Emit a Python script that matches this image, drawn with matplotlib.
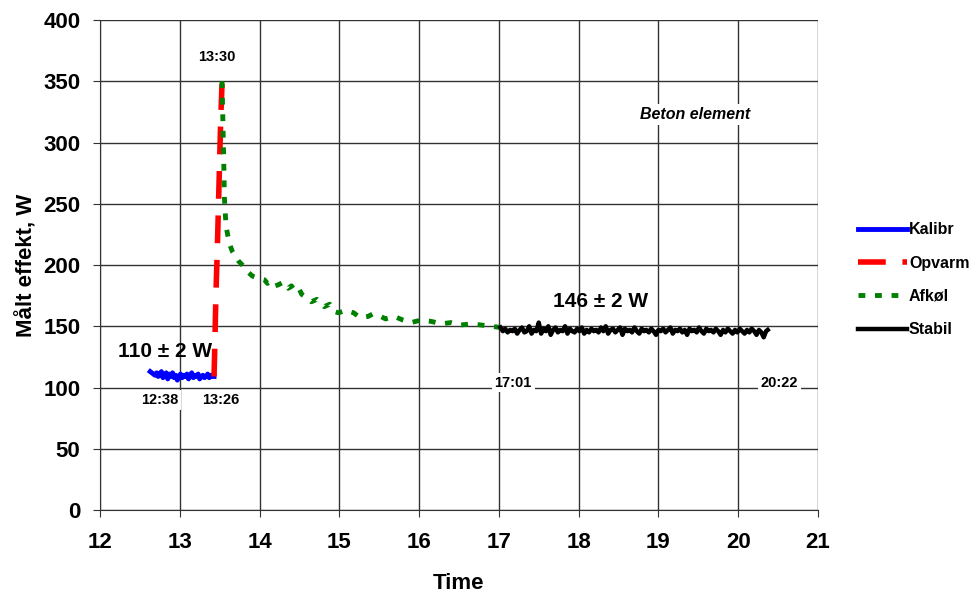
import numpy as np
import matplotlib.pyplot as plt

plt.rcParams['font.family'] = ['Liberation Sans', 'DejaVu Sans']

# Kalibr (12:38 - 13:26)
kal_x = [12.63, 12.65, 12.67, 12.69, 12.71, 12.73, 12.75, 12.77, 12.79, 12.81,
         12.83, 12.85, 12.87, 12.89, 12.91, 12.93, 12.95, 12.97, 12.99, 13.01,
         13.03, 13.05, 13.07, 13.09, 13.11, 13.13, 13.15, 13.17, 13.19, 13.21,
         13.23, 13.25, 13.27, 13.29, 13.31, 13.33, 13.35, 13.37, 13.39, 13.41, 13.43]
kal_y = [113, 112, 111, 110, 112, 109, 111, 113, 108, 110,
         112, 107, 111, 109, 112, 108, 110, 106, 109, 111,
         108, 110, 109, 111, 107, 110, 112, 108, 110, 109,
         111, 107, 109, 110, 108, 109, 111, 108, 110, 109, 109]

# Opvarm
opv_x = [13.43, 13.44, 13.45, 13.46, 13.47, 13.48, 13.49, 13.50, 13.51, 13.52, 13.53]
opv_y = [109, 135, 165, 190, 210, 235, 260, 285, 310, 330, 348]

# Afkøl
afk_x = [13.53, 13.54, 13.55, 13.56, 13.58, 13.62, 13.66, 13.74, 13.80, 13.86, 13.91,
         13.95, 14.00, 14.06, 14.10, 14.15, 14.20, 14.24, 14.30, 14.36, 14.40,
         14.45, 14.50, 14.53, 14.60, 14.65, 14.72, 14.81, 14.88, 14.94, 14.99,
         15.08, 15.18, 15.26, 15.36, 15.42, 15.49, 15.58, 15.69, 15.80, 15.90,
         16.02, 16.15, 16.28, 16.40, 16.52, 16.65, 16.78, 16.90, 17.02]
afk_y = [350, 320, 290, 255, 232, 218, 211, 203, 199, 194, 191,
         190, 189, 188, 185, 187, 183, 184, 186, 181, 183,
         178, 180, 176, 173, 170, 172, 166, 168, 162, 161,
         163, 161, 157, 158, 160, 159, 156, 158, 155, 153,
         155, 154, 152, 153, 151, 152, 151, 150, 149]

# Stabil (17:01 - 20:22)
stb_x = [17.02, 17.05, 17.08, 17.11, 17.14, 17.17, 17.20, 17.23, 17.26, 17.29,
         17.32, 17.35, 17.38, 17.41, 17.44, 17.47, 17.50, 17.53, 17.56, 17.59,
         17.62, 17.65, 17.68, 17.71, 17.74, 17.77, 17.80, 17.83, 17.86, 17.89,
         17.92, 17.95, 17.98, 18.01, 18.04, 18.07, 18.10, 18.13, 18.16, 18.19,
         18.22, 18.25, 18.28, 18.31, 18.34, 18.37, 18.40, 18.43, 18.46, 18.49,
         18.52, 18.55, 18.58, 18.61, 18.64, 18.67, 18.70, 18.73, 18.76, 18.79,
         18.82, 18.85, 18.88, 18.91, 18.94, 18.97, 19.00, 19.03, 19.06, 19.09,
         19.12, 19.15, 19.18, 19.21, 19.24, 19.27, 19.30, 19.33, 19.36, 19.39,
         19.42, 19.45, 19.48, 19.51, 19.54, 19.57, 19.60, 19.63, 19.66, 19.69,
         19.72, 19.75, 19.78, 19.81, 19.84, 19.87, 19.90, 19.93, 19.96, 19.99,
         20.02, 20.05, 20.08, 20.11, 20.14, 20.17, 20.20, 20.23, 20.26, 20.29,
         20.32, 20.35, 20.37]
stb_y = [149, 146, 148, 145, 147, 146, 148, 144, 147, 149,
         145, 146, 150, 144, 147, 146, 153, 144, 148, 146,
         150, 143, 147, 149, 145, 147, 146, 150, 144, 148,
         146, 145, 148, 146, 149, 144, 147, 145, 148, 146,
         147, 145, 149, 146, 150, 144, 147, 148, 145, 147,
         149, 143, 148, 146, 147, 145, 149, 146, 144, 148,
         146, 147, 145, 148, 146, 143, 147, 146, 148, 145,
         147, 149, 144, 147, 146, 148, 145, 147, 143, 148,
         146, 147, 145, 149, 146, 144, 148, 146, 147, 145,
         148, 146, 143, 147, 145, 148, 146, 144, 147, 145,
         148, 146, 144, 147, 145, 148, 146, 143, 147, 145,
         141, 146, 147]

fig = plt.figure(figsize=(9.79, 5.94), dpi=100)
ax = fig.add_axes([0.1021, 0.1414, 0.7334, 0.8249])

ax.plot(kal_x, kal_y, color='#0000ff', lw=3.5, label='Kalibr', zorder=3)
ax.plot(opv_x, opv_y, color='#ff0000', lw=4, ls=(0, (5, 3)), label='Opvarm', zorder=3)
ax.plot(afk_x, afk_y, color='#008000', lw=3.5, ls=(0, (1.4, 2.0)), label='Afkøl', zorder=3)
ax.plot(stb_x, stb_y, color='black', lw=3.2, label='Stabil', zorder=3)

ax.set_xlim(12, 21)
ax.set_ylim(0, 400)
ax.set_xticks(range(12, 22))
ax.set_yticks(range(0, 401, 50))
ax.grid(True, color='#333333', lw=1)
ax.set_axisbelow(True)
for s in ['top', 'right']:
    ax.spines[s].set_visible(False)
ax.spines['left'].set_color('#333333')
ax.spines['bottom'].set_color('#333333')
ax.tick_params(labelsize=16, length=5, color='#333333')
ax.tick_params(axis='x', pad=11)
ax.tick_params(axis='y', pad=9)
for lab in ax.get_xticklabels() + ax.get_yticklabels():
    lab.set_fontweight('bold')

ax.set_xlabel('Time', fontsize=16, fontweight='bold', labelpad=14)
ax.set_ylabel('Målt effekt, W', fontsize=16, fontweight='bold', labelpad=4)

box = dict(facecolor='white', edgecolor='none', pad=2)
for txt, x, y in [('13:30', 13.46, 370), ('12:38', 12.75, 90), ('13:26', 13.52, 90),
                  ('17:01', 17.18, 104), ('20:22', 20.52, 104)]:
    ax.text(x, y, txt, fontsize=10.5, fontweight='bold', ha='center', va='center', bbox=box, zorder=4)

ax.text(12.81, 129, '110 ± 2 W', fontsize=15, fontweight='bold', ha='center', va='center')
ax.text(18.27, 170, '146 ± 2 W', fontsize=15, fontweight='bold', ha='center', va='center')
ax.text(19.46, 323, 'Beton element', fontsize=11.5, fontweight='bold', style='italic',
        ha='center', va='center', bbox=box)

leg = ax.legend(loc='center left', bbox_to_anchor=(1.04, 0.47), frameon=False,
                prop={'weight': 'bold', 'size': 11.5}, handlelength=3.1, handletextpad=0.1,
                labelspacing=1.15, borderpad=0.2)

fig.savefig('out.png', dpi=100)
